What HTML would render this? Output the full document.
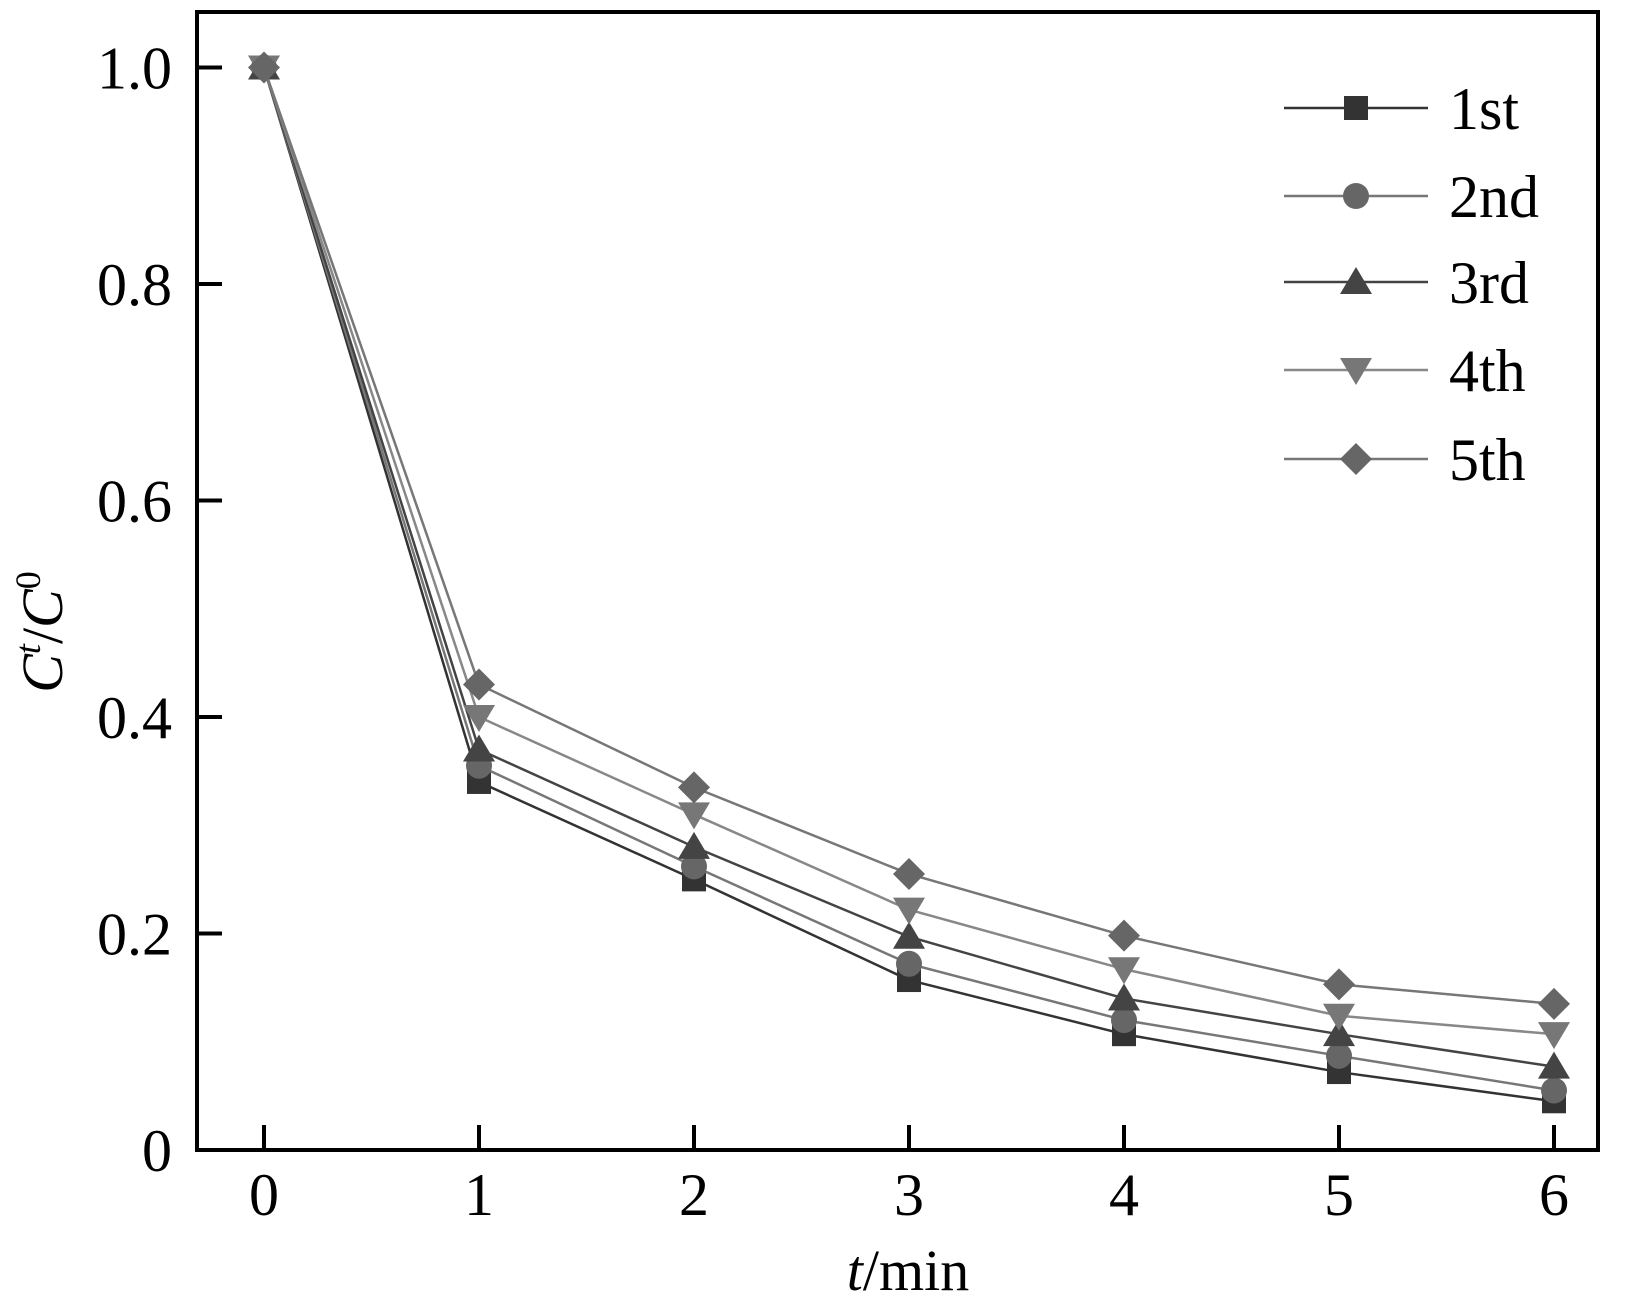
<!DOCTYPE html>
<html><head><meta charset="utf-8"><style>
html,body{margin:0;padding:0;background:#fff;}
svg{display:block;font-family:"Liberation Serif",serif;}
</style></head><body>
<svg id="chart" width="1642" height="1307" viewBox="0 0 1642 1307" xmlns="http://www.w3.org/2000/svg">
<rect x="197" y="12" width="1401" height="1138" fill="none" stroke="#000" stroke-width="4"/>
<g id="ticks"></g>
<g id="series"></g>
<g id="legend"></g>
<text transform="translate(62,632) rotate(-90)" text-anchor="middle" font-size="58" font-style="italic">C<tspan dy="-22" font-size="36">t</tspan><tspan dy="22" font-style="normal">/</tspan>C<tspan dy="-22" font-size="36" font-style="normal">0</tspan></text>
<text x="908" y="1290" text-anchor="middle" font-size="58"><tspan font-style="italic">t</tspan>/min</text>
</svg>
<script>
const categories = [0,1,2,3,4,5,6];
const seriesNames = ["1st","2nd","3rd","4th","5th"];
const s1 = [1.0,0.34,0.25,0.157,0.107,0.072,0.045];
const s2 = [1.0,0.355,0.262,0.172,0.12,0.087,0.055];
const s3 = [1.0,0.37,0.28,0.197,0.14,0.107,0.077];
const s4 = [1.0,0.40,0.31,0.222,0.167,0.124,0.107];
const s5 = [1.0,0.43,0.335,0.255,0.198,0.153,0.135];
const yTicks = [0,0.2,0.4,0.6,0.8,1.0];
const yTickLabels = ["0","0.2","0.4","0.6","0.8","1.0"];
const xTickLabels = ["0","1","2","3","4","5","6"];

const NS="http://www.w3.org/2000/svg";
const xs = v => 264 + v*215;
const ys = v => 1150 - v*1082.5;
function mk(tag, attrs, parent){const e=document.createElementNS(NS,tag);for(const k in attrs)e.setAttribute(k,attrs[k]);parent.appendChild(e);return e;}
const ticks=document.getElementById('ticks');
yTicks.forEach((v,i)=>{
  const t=mk('line',{x1:197,x2:222,y1:ys(v),y2:ys(v),stroke:'#000','stroke-width':4},ticks);
  
  
  const l=mk('text',{x:172,y:ys(v)+21,'text-anchor':'end','font-size':60},ticks);
  
  
  l.textContent=yTickLabels[i];
});
categories.forEach((c,i)=>{
  const t=mk('line',{x1:xs(c),x2:xs(c),y1:1150,y2:1125,stroke:'#000','stroke-width':4},ticks);
  
  
  const l=mk('text',{x:xs(c),y:1215,'text-anchor':'middle','font-size':60},ticks);
  
  
  l.textContent=xTickLabels[i];
});
const allSeries=[s1,s2,s3,s4,s5];
const colors=["#333","#666","#444","#777","#666"];
const lineColors=["#333","#777","#444","#888","#777"];
const shapes=["square","circle","up","down","diamond"];
function marker(shape,x,y,col,parent){
  let e;
  if(shape==='square') e=mk('rect',{x:x-12,y:y-12,width:24,height:24,fill:col},parent);
  else if(shape==='circle') e=mk('circle',{cx:x,cy:y,r:13,fill:col},parent);
  else if(shape==='up') e=mk('polygon',{points:`${x},${y-15} ${x+16},${y+12} ${x-16},${y+12}`,fill:col},parent);
  else if(shape==='down') e=mk('polygon',{points:`${x-16},${y-12} ${x+16},${y-12} ${x},${y+15}`,fill:col},parent);
  else e=mk('polygon',{points:`${x},${y-16} ${x+16},${y} ${x},${y+16} ${x-16},${y}`,fill:col},parent);
  return e;
}
const sg=document.getElementById('series');
allSeries.forEach((data,si)=>{
  const g=mk('g',{},sg);
  
  
  const pl=mk('polyline',{points:data.map((v,i)=>xs(categories[i])+','+ys(v)).join(' '),fill:'none',stroke:lineColors[si],'stroke-width':2.5},g);
  
  
  data.forEach((v,i)=>{
    const m=marker(shapes[si],xs(categories[i]),ys(v),colors[si],g);
    
    
  });
});
const lg=document.getElementById('legend');
const legY=[108,196,282,370,459];
seriesNames.forEach((n,i)=>{
  const g=mk('g',{},lg);
  
  
  mk('line',{x1:1284,x2:1428,y1:legY[i],y2:legY[i],stroke:lineColors[i],'stroke-width':2.5},g);
  marker(shapes[i],1356,legY[i],colors[i],g);
  const t=mk('text',{x:1449,y:legY[i]+21,'font-size':60},g);
  t.textContent=n;
});
</script>
</body></html>
